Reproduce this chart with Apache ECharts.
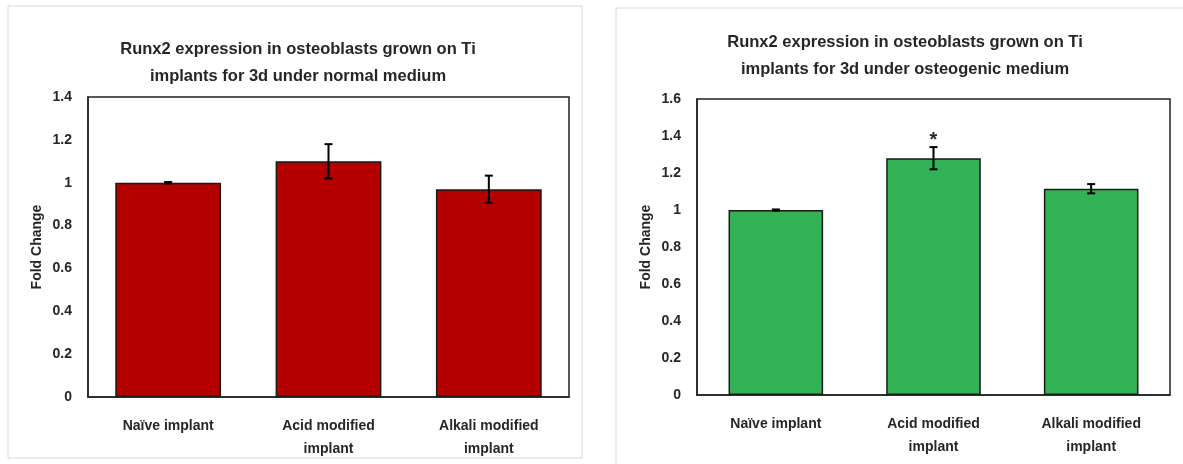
<!DOCTYPE html>
<html><head><meta charset="utf-8">
<script src="https://cdn.jsdelivr.net/npm/echarts@6/dist/echarts.min.js"></script>
<style>html,body{margin:0;padding:0;background:#fff}#c{width:1183px;height:464px}</style>
</head><body><div id="c"></div>
<script>
const categories = ['Naïve implant', 'Acid modified\nimplant', 'Alkali modified\nimplant'];
const normalValues = [1.0, 1.10, 0.97];
const normalErrors = [0.003, 0.08, 0.063];
const normalSignif = ['', '', ''];
const osteoValues = [1.0, 1.28, 1.115];
const osteoErrors = [0.003, 0.06, 0.025];
const osteoSignif = ['', '*', ''];
const normalTitle = 'Runx2 expression in osteoblasts grown on Ti\nimplants for 3d under normal medium';
const osteoTitle = 'Runx2 expression in osteoblasts grown on Ti\nimplants for 3d under osteogenic medium';
const yName = 'Fold Change';
const normalMax = 1.4, osteoMax = 1.6, tickStep = 0.2;

const FONT = '"Liberation Sans", "Open Sans", sans-serif';
const TXT = '#262626';
const chart = echarts.init(document.getElementById('c'), null, {renderer: 'canvas'});

function errSeries(idx, vals, errs, sig) {
  return {
    type: 'custom', xAxisIndex: idx, yAxisIndex: idx, z: 10,
    data: vals.map((v, i) => [i, v, errs[i]]),
    renderItem: function (params, api) {
      const i = api.value(0), v = api.value(1), e = api.value(2);
      const s = sig[i];
      const top = api.coord([i, v + e]), bot = api.coord([i, v - e]);
      const cw = 4;
      const children = [
        {type: 'line', shape: {x1: top[0], y1: top[1], x2: bot[0], y2: bot[1]}, style: {stroke: '#000', lineWidth: 2}},
        {type: 'line', shape: {x1: top[0]-cw, y1: top[1], x2: top[0]+cw, y2: top[1]}, style: {stroke: '#000', lineWidth: 2}},
        {type: 'line', shape: {x1: bot[0]-cw, y1: bot[1], x2: bot[0]+cw, y2: bot[1]}, style: {stroke: '#000', lineWidth: 2}}
      ];
      if (s) children.push({type: 'text', style: {text: s, x: top[0], y: top[1] + 3, align: 'center', verticalAlign: 'bottom', font: 'bold 20px ' + FONT, fill: TXT}});
      return {type: 'group', children: children};
    }
  };
}

function yAx(idx, max, gap) {
  return {
    type: 'value', gridIndex: idx, min: 0, max: max, interval: tickStep,
    name: yName, nameLocation: 'middle', nameGap: gap, nameRotate: 90,
    nameTextStyle: {fontFamily: FONT, fontWeight: 'bold', fontSize: 14, color: TXT},
    axisLine: {show: true, lineStyle: {color: '#222', width: 1.5}},
    axisTick: {show: false}, splitLine: {show: false},
    axisLabel: {fontFamily: FONT, fontWeight: 'bold', fontSize: 14, color: TXT, margin: 16}
  };
}
function xAx(idx) {
  return {
    type: 'category', gridIndex: idx, data: categories,
    axisLine: {show: true, lineStyle: {color: '#222', width: 1.5}},
    axisTick: {show: false},
    axisLabel: {fontFamily: FONT, fontWeight: 'bold', fontSize: 14, color: TXT, margin: 18, lineHeight: 23, interval: 0}
  };
}

chart.setOption({
  animation: false,
  backgroundColor: '#fff',
  graphic: [
    {type: 'rect', shape: {x: 8, y: 6, width: 574, height: 452}, style: {fill: 'none', stroke: '#d9d9d9', lineWidth: 1}, z: -1},
    {type: 'rect', shape: {x: 616, y: 8, width: 580, height: 470}, style: {fill: 'none', stroke: '#d9d9d9', lineWidth: 1}, z: -1}
  ],
  title: [
    {text: normalTitle, left: 293, top: 31, textAlign: 'center', textStyle: {fontFamily: FONT, fontWeight: 'bold', fontSize: 16.5, color: TXT, lineHeight: 27}},
    {text: osteoTitle, left: 900, top: 24, textAlign: 'center', textStyle: {fontFamily: FONT, fontWeight: 'bold', fontSize: 16.5, color: TXT, lineHeight: 27}}
  ],
  grid: [
    {left: 88, right: 614, top: 97, bottom: 67, show: true, borderColor: '#222', borderWidth: 1.5, containLabel: false},
    {left: 697, right: 13, top: 99, bottom: 69, show: true, borderColor: '#222', borderWidth: 1.5, containLabel: false}
  ],
  xAxis: [xAx(0), xAx(1)],
  yAxis: [yAx(0, normalMax, 44), yAx(1, osteoMax, 44)],
  series: [
    {type: 'bar', xAxisIndex: 0, yAxisIndex: 0, data: normalValues, barCategoryGap: '34%',
     itemStyle: {color: '#B50000', borderColor: '#1a1a1a', borderWidth: 1.5}},
    errSeries(0, normalValues, normalErrors, normalSignif),
    {type: 'bar', xAxisIndex: 1, yAxisIndex: 1, data: osteoValues, barCategoryGap: '40%',
     itemStyle: {color: '#33B155', borderColor: '#1a1a1a', borderWidth: 1.5}},
    errSeries(1, osteoValues, osteoErrors, osteoSignif)
  ]
});
</script></body></html>
